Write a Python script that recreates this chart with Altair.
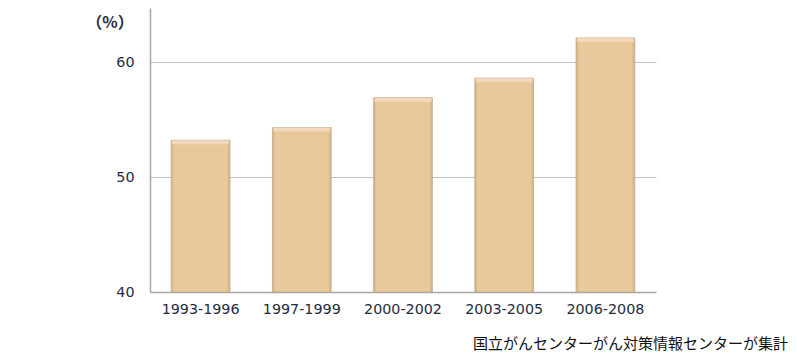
import altair as alt
import pandas as pd

periods = ["1993-1996", "1997-1999", "2000-2002", "2003-2005", "2006-2008"]
rates = [53.2, 54.3, 56.9, 58.6, 62.1]
y_ticks = [40, 50, 60]
y_base = 40
unit_label = "（%）"
source_note = "国立がんセンターがん対策情報センターが集計"

df = pd.DataFrame({"period": periods, "rate": rates})

W, H = 506, 284

x_enc = alt.X("period:N", sort=periods, title=None,
              scale=alt.Scale(paddingInner=0.42, paddingOuter=0.21),
              axis=alt.Axis(labelAngle=0, ticks=False, labelPadding=10,
                            labelFont="DejaVu Sans", labelFontSize=14.3,
                            labelColor="#232b3e", domainColor="#a6a6a6",
                            domainWidth=1.5, grid=False))
y_enc = alt.Y("rate:Q", title=None,
              scale=alt.Scale(domain=[40, 64.7], nice=False, zero=False),
              axis=alt.Axis(values=y_ticks, ticks=False, labelPadding=16,
                            labelFont="DejaVu Sans", labelFontSize=14.3,
                            labelColor="#232b3e", domainColor="#a6a6a6",
                            domainWidth=1.5, gridColor="#c0c0c0", gridWidth=1))

bars = alt.Chart(df).mark_bar(
    color={"x1": 0, "x2": 1, "y1": 0, "y2": 0, "gradient": "linear",
           "stops": [{"offset": 0, "color": "#c9ae88"},
                     {"offset": 0.05, "color": "#e9c99b"},
                     {"offset": 0.95, "color": "#e9c99b"},
                     {"offset": 1, "color": "#c9ae88"}]},
    stroke="#c2aa88", strokeWidth=0.8
).encode(x=x_enc, y=y_enc, y2=alt.datum(y_base))

caps = alt.Chart(df).mark_tick(
    orient="horizontal", size=57, thickness=4, color="#f8dfcc", yOffset=2
).encode(x=alt.X("period:N", sort=periods), y="rate:Q")

unit = alt.Chart(pd.DataFrame({"t": [unit_label]})).mark_text(
    font="Noto Sans CJK JP", fontSize=16, fontWeight="bold", color="#232b3e",
    align="center", baseline="middle"
).encode(x=alt.value(-40), y=alt.value(15), text="t:N")

note = alt.Chart(pd.DataFrame({"t": [source_note]})).mark_text(
    font="Noto Sans CJK JP", fontSize=15, color="#111111",
    align="right", baseline="middle"
).encode(x=alt.value(638), y=alt.value(336), text="t:N")

chart = alt.layer(bars, caps, unit, note).properties(
    width=W, height=H,
    autosize=alt.AutoSizeParams(type="none"),
    padding={"left": 142, "top": 0, "right": 133, "bottom": 64}
).configure(background="white").configure_view(stroke=None)

chart.save("out.html", embed_options={"renderer": "svg", "actions": False})
